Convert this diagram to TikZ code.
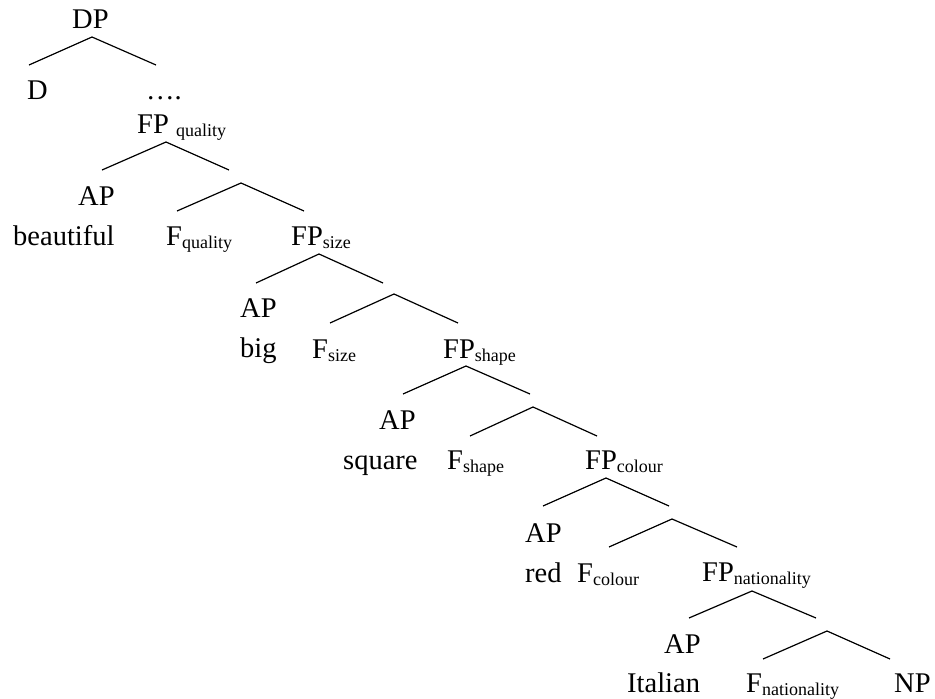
\documentclass[tikz,border=0pt]{standalone}
\usepackage{fontspec}
\setmainfont{Liberation Serif}
\newcommand{\lbsub}[1]{\raisebox{-3.5pt}{\fontsize{18}{18}\selectfont #1}}
\begin{document}
\begin{tikzpicture}[x=1pt,y=-1pt,
  lab/.style={anchor=base west,inner sep=0pt,font=\fontsize{28.5}{30}\selectfont},
  branch/.style={line width=1.2pt,black}]
\useasboundingbox (0,0) rectangle (935,699);
% labels
\node[lab] (DP) at (72,28) {DP};
\node[lab] (D) at (27,99) {D};
\node[lab] (dots) at (146,99) {….};
\node[lab] (FPq) at (137,133) {FP \lbsub{quality}};
\node[lab] (AP1) at (78,205) {AP};
\node[lab] (beautiful) at (13,245) {beautiful};
\node[lab] (Fq) at (166,245) {F\lbsub{quality}};
\node[lab] (FPsize) at (291,245) {FP\lbsub{size}};
\node[lab] (AP2) at (240,317) {AP};
\node[lab] (big) at (240,357) {big};
\node[lab] (Fsize) at (312,358) {F\lbsub{size}};
\node[lab] (FPshape) at (443,358) {FP\lbsub{shape}};
\node[lab] (AP3) at (379,429) {AP};
\node[lab] (square) at (343,469) {square};
\node[lab] (Fshape) at (447,469) {F\lbsub{shape}};
\node[lab] (FPcolour) at (585,469) {FP\lbsub{colour}};
\node[lab] (AP4) at (525,542) {AP};
\node[lab] (red) at (525,582) {red};
\node[lab] (Fcolour) at (577,582) {F\lbsub{colour}};
\node[lab] (FPnat) at (702,581) {FP\lbsub{nationality}};
\node[lab] (AP5) at (664,653) {AP};
\node[lab] (Italian) at (627,692) {Italian};
\node[lab] (Fnat) at (746,692) {F\lbsub{nationality}};
\node[lab] (NP) at (894,692) {NP};
% branch points
\coordinate (p1) at (92,37);   \coordinate (l1) at (29,65);   \coordinate (r1) at (156,65);
\coordinate (p2) at (166,142); \coordinate (l2) at (102,170); \coordinate (r2) at (229,170);
\coordinate (p3) at (241,183); \coordinate (l3) at (177,211); \coordinate (r3) at (304,211);
\coordinate (p4) at (319,254); \coordinate (l4) at (256,283); \coordinate (r4) at (383,283);
\coordinate (p5) at (394,294); \coordinate (l5) at (330,323); \coordinate (r5) at (458,323);
\coordinate (p6) at (466,366); \coordinate (l6) at (403,394); \coordinate (r6) at (530,394);
\coordinate (p7) at (533,407); \coordinate (l7) at (470,436); \coordinate (r7) at (597,436);
\coordinate (p8) at (606,478); \coordinate (l8) at (543,506); \coordinate (r8) at (669,506);
\coordinate (p9) at (672,519); \coordinate (l9) at (609,547); \coordinate (r9) at (737,547);
\coordinate (p10) at (752,591); \coordinate (l10) at (689,618); \coordinate (r10) at (816,618);
\coordinate (p11) at (827,631); \coordinate (l11) at (763,659); \coordinate (r11) at (890,659);
\foreach \i in {1,...,11}{
  \draw[branch] (l\i) -- (p\i) -- (r\i);
}
\end{tikzpicture}
\end{document}
